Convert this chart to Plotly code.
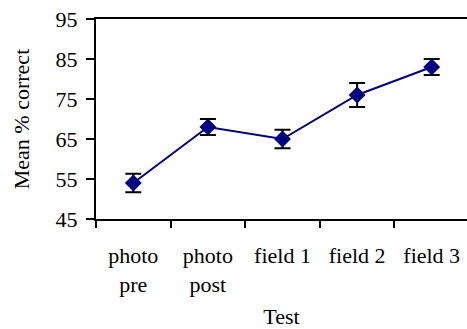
import plotly.graph_objects as go

categories = ["photo<br>pre", "photo<br>post", "field 1", "field 2", "field 3"]
means = [54, 68, 65, 76, 83]
errors = [2.3, 2.0, 2.3, 3.0, 2.0]
y_ticks = [45, 55, 65, 75, 85, 95]

font = dict(family="Times New Roman, Liberation Serif, serif", size=22, color="black")

fig = go.Figure()
fig.add_trace(go.Scatter(
    x=categories, y=means,
    mode="lines+markers",
    line=dict(color="#000080", width=2),
    marker=dict(symbol="diamond", size=13, color="#000080"),
    error_y=dict(type="data", array=errors, visible=True, color="black", thickness=2, width=8),
    showlegend=False,
))

fig.update_layout(
    width=467, height=329,
    margin=dict(l=96, r=0, t=19, b=110),
    paper_bgcolor="white", plot_bgcolor="white",
    font=font,
)
fig.update_xaxes(
    type="category", range=[-0.5, 4.473],
    tickson="boundaries", ticks="outside", ticklen=7, tickwidth=1.5, tickcolor="black",
    showline=True, linecolor="black", linewidth=2, mirror=True,
    showgrid=False, zeroline=False, ticklabelstandoff=16,
    tickfont=font,
    title=dict(text="Test", font=font, standoff=14),
)
fig.update_yaxes(
    range=[45, 95], tickvals=y_ticks, ticktext=[str(v) for v in y_ticks],
    ticks="outside", ticklen=8, tickwidth=1.5, tickcolor="black",
    showline=True, linecolor="black", linewidth=2,
    showgrid=False, zeroline=False, ticklabelstandoff=4,
    tickfont=font,
    title=dict(text="Mean % correct", font=font, standoff=20),
)

fig.write_html("out.html")
